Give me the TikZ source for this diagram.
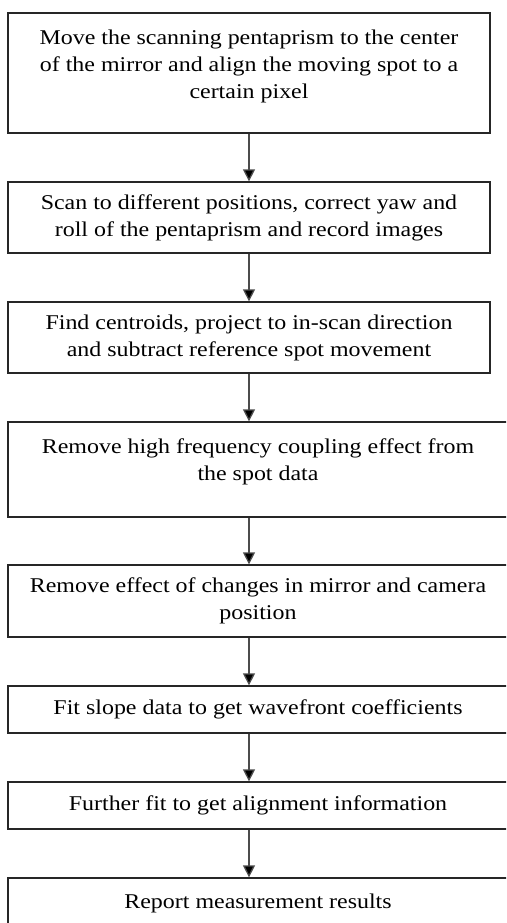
\documentclass[tikz,border=0pt]{standalone}
\usepackage{fontspec}
\setmainfont{Liberation Serif}[FakeStretch=1.14]
\usetikzlibrary{arrows.meta}
\tikzset{
	stepbox/.style={draw=black!85, line width=1.3pt, rectangle, align=center, inner sep=0pt,
		font=\fontsize{21}{27}\selectfont},
	arr/.style={draw=black!70, line width=1.3pt, -{Triangle[length=12pt,width=12pt,fill=black]}}
}
\begin{document}
\begin{tikzpicture}[x=1pt,y=-1pt]
			\useasboundingbox (0,0) rectangle (506,923);
			\clip (0,0) rectangle (506,923);
			\node	(s1) at (249,73) [stepbox, minimum width=482, minimum height=120, text depth=17pt] {Move the scanning pentaprism to the center\\of the mirror and align the moving spot to a\\certain pixel};
			\node	(s2) at (249,217.5) [stepbox, minimum width=482, minimum height=71] {Scan to different positions, correct yaw and\\roll of the pentaprism and record images};
			\node	(s3) at (249,337.5) [stepbox, minimum width=482, minimum height=71] {Find centroids, project to in-scan direction\\and subtract reference spot movement};
			\node	(s4) at (258,469.5) [stepbox, minimum width=500, minimum height=95, text depth=19pt] {Remove high frequency coupling effect from\\the spot data};
			\node	(s5) at (258,601) [stepbox, minimum width=500, minimum height=72] {Remove effect of changes in mirror and camera\\position};
			\node	(s6) at (258,709.5) [stepbox, minimum width=500, minimum height=47] {Fit slope data to get wavefront coefficients};
			\node	(s7) at (258,805.5) [stepbox, minimum width=500, minimum height=47] {Further fit to get alignment information};
			\node	(s8) at (258,903) [stepbox, minimum width=500, minimum height=50] {Report measurement results};
			
			\draw 
			(s1) edge[arr] (s2) 
			(s2) edge[arr] (s3)
			(s3.south) edge[arr] (s4.north -| s3.south)
			(s4.south -| s3.south) edge[arr] (s5.north -| s3.south)
			(s5.south -| s3.south) edge[arr] (s6.north -| s3.south)
			(s6.south -| s3.south) edge[arr] (s7.north -| s3.south)
			(s7.south -| s3.south) edge[arr] (s8.north -| s3.south)
			;
		\end{tikzpicture}
\end{document}
